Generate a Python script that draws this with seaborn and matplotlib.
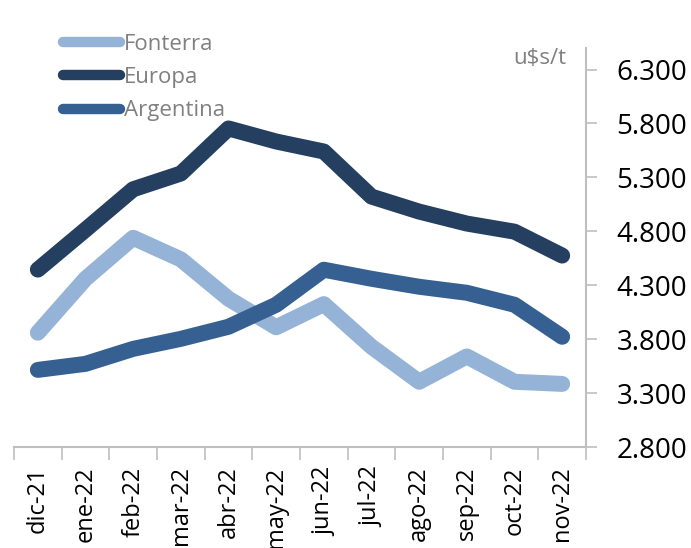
import numpy as np
import pandas as pd
import matplotlib
matplotlib.use("Agg")
import matplotlib.pyplot as plt
import seaborn as sns

months = ["dic-21", "ene-22", "feb-22", "mar-22", "abr-22", "may-22",
          "jun-22", "jul-22", "ago-22", "sep-22", "oct-22", "nov-22"]
fonterra = [3860, 4360, 4740, 4540, 4175, 3910, 4125, 3730, 3405, 3640, 3405, 3385]
europa = [4445, 4815, 5190, 5336, 5754, 5633, 5540, 5122, 4983, 4872, 4797, 4575]
argentina = [3515, 3571, 3710, 3803, 3915, 4119, 4444, 4360, 4286, 4230, 4119, 3822]
series_names = ["Fonterra", "Europa", "Argentina"]
yticks = [2800, 3300, 3800, 4300, 4800, 5300, 5800, 6300]
unit_label = "u$s/t"

colors = {"Fonterra": "#95B3D7", "Europa": "#243F60", "Argentina": "#376092"}

df = pd.DataFrame({
    "mes": months * 3,
    "valor": fonterra + europa + argentina,
    "serie": sum([[n] * len(months) for n in series_names], []),
})

sns.set_theme(style="white")
plt.rcParams["font.family"] = ["Open Sans", "DejaVu Sans"]

fig = plt.figure(figsize=(6.91, 5.48), dpi=100)
ax = fig.add_axes([14 / 691, 1 - 447 / 548, (586 - 14) / 691, (447 - 48) / 548])

sns.lineplot(data=df, x="mes", y="valor", hue="serie", hue_order=series_names,
             palette=colors, linewidth=11.5, ax=ax, sort=False,
             solid_capstyle="round", solid_joinstyle="round")

ax.set_xlim(-0.5, len(months) - 0.5)
ax.set_ylim(2800, 6500)
ax.set_xlabel("")
ax.set_ylabel("")

# y axis on the right
ax.yaxis.tick_right()
ax.set_yticks(yticks)
ax.set_yticklabels([f"{v/1000:.3f}" for v in yticks], fontsize=20, color="black")
ax.tick_params(axis="y", which="major", direction="out", length=8, width=1.2,
               color="#BFBFBF", pad=14, right=True, left=False)

# x axis: labels at centers, tick marks at boundaries
ax.set_xticks(range(len(months)))
ax.set_xticklabels(months, rotation=90, fontsize=17, color="black")
ax.set_xticks(np.arange(-0.5, len(months), 1.0), minor=True)
ax.tick_params(axis="x", which="major", length=0, pad=14)
ax.tick_params(axis="x", which="minor", direction="out", length=9, width=1.2,
               color="#BFBFBF", bottom=True)

for side in ["top", "left"]:
    ax.spines[side].set_visible(False)
for side in ["bottom", "right"]:
    ax.spines[side].set_visible(True)
    ax.spines[side].set_color("#BFBFBF")
    ax.spines[side].set_linewidth(1.5)

fig.text(566 / 691, 1 - 58 / 548, unit_label, ha="right", va="center",
         fontsize=16, color="#808080")

leg = ax.legend(loc="upper left", bbox_to_anchor=(63 / 691, 1 - 34 / 548),
                bbox_transform=fig.transFigure, frameon=False, fontsize=16,
                handlelength=2.55, handletextpad=0.2, labelspacing=0.55,
                borderaxespad=0, borderpad=0)
for t in leg.get_texts():
    t.set_color("#808080")
for h in leg.get_lines():
    h.set_linewidth(7.5)
    h.set_solid_capstyle("round")

fig.savefig("out.png", dpi=100)
